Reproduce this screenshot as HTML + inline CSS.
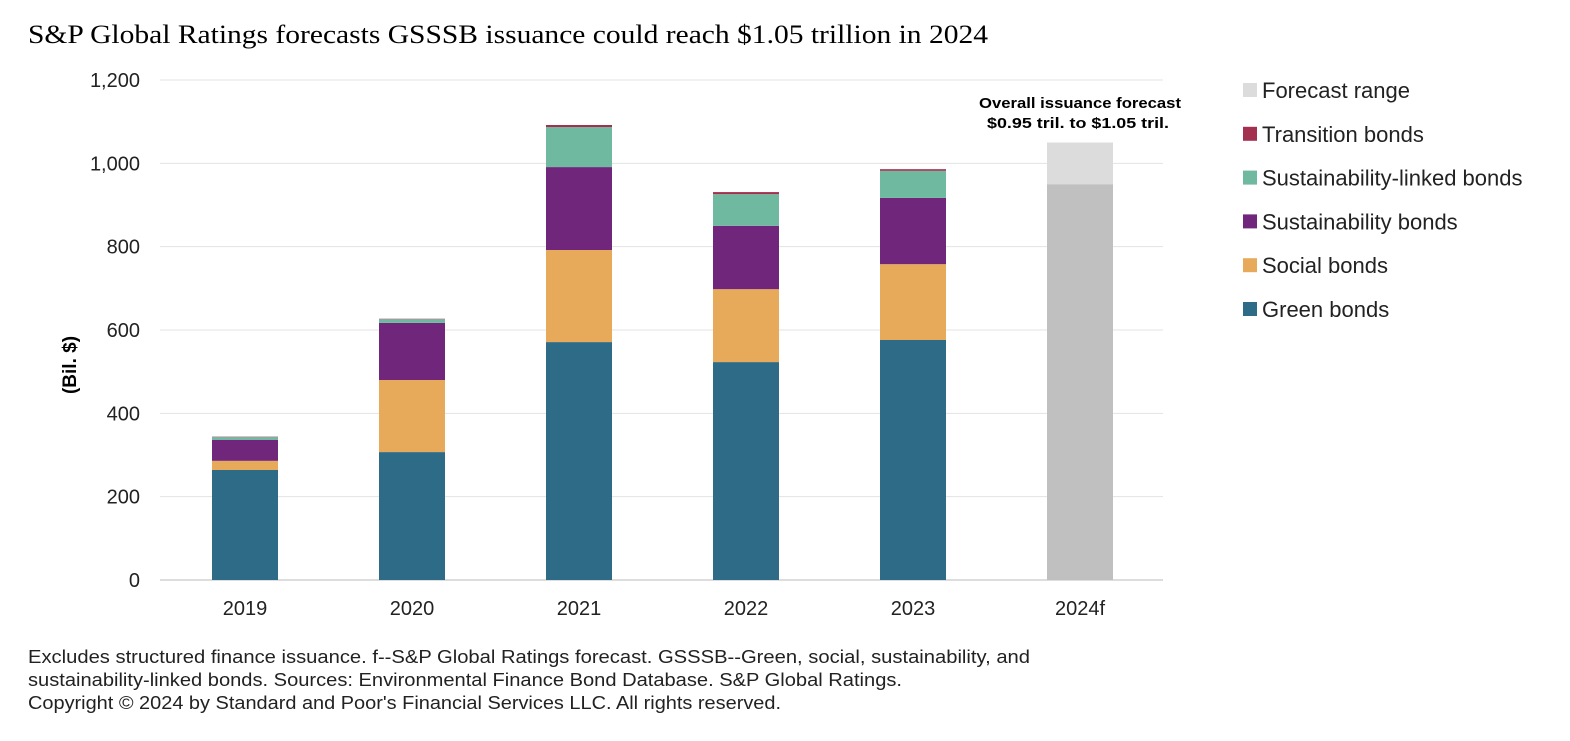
<!DOCTYPE html>
<html><head><meta charset="utf-8"><style>
body{margin:0;background:#fff;width:1570px;height:736px;overflow:hidden;font-family:"Liberation Sans",sans-serif}
</style></head><body>
<svg width="1570" height="736">
<text x="28" y="43" font-family="Liberation Serif" font-size="26" fill="#000" textLength="960" lengthAdjust="spacingAndGlyphs">S&amp;P Global Ratings forecasts GSSSB issuance could reach $1.05 trillion in 2024</text>
<g id="grid"></g><g id="bars"></g><g id="labels"></g>
<text transform="translate(76,365) rotate(-90)" text-anchor="middle" font-size="19" font-weight="bold">(Bil. $)</text>
<text x="979" y="108" font-size="15" font-weight="bold" textLength="202" lengthAdjust="spacingAndGlyphs">Overall issuance forecast</text>
<text x="987" y="128" font-size="15" font-weight="bold" textLength="182" lengthAdjust="spacingAndGlyphs">$0.95 tril. to $1.05 tril.</text>
<g id="legend"></g>
<g font-size="18" fill="#222">
<text x="28" y="663" textLength="1002" lengthAdjust="spacingAndGlyphs">Excludes structured finance issuance. f--S&amp;P Global Ratings forecast. GSSSB--Green, social, sustainability, and</text>
<text x="28" y="686" textLength="874" lengthAdjust="spacingAndGlyphs">sustainability-linked bonds. Sources: Environmental Finance Bond Database. S&amp;P Global Ratings.</text>
<text x="28" y="709" textLength="753" lengthAdjust="spacingAndGlyphs">Copyright © 2024 by Standard and Poor's Financial Services LLC. All rights reserved.</text>
</g>
</svg>
<script>
const categories=["2019","2020","2021","2022","2023"];
const green=[264,307,571,523,576];
const social=[22,173,221,175,182];
const sustainability=[50,137,199,152,159];
const sustainabilityLinked=[7,9,96,76,65];
const transition=[1,1,5,5,4];
const forecastCategory="2024f";
const forecastBase=[950];
const forecastRange=[100];
const yTicks=[0,200,400,600,800,1000,1200];
const yTickLabels=["0","200","400","600","800","1,000","1,200"];
const ns="http://www.w3.org/2000/svg";
const y=v=>580-v*500/1200;
const x=i=>245+i*167;
const bw=66;
function mk(t,a,p){const e=document.createElementNS(ns,t);for(const k in a)e.setAttribute(k,a[k]);document.getElementById(p).appendChild(e);return e;}
yTicks.forEach((t,i)=>{
 const l=mk('line',{x1:160,x2:1163,y1:y(t),y2:y(t),stroke:t===0?'#bbb':'#e3e3e3','stroke-width':1},'grid');
 
 
 const tx=mk('text',{x:140,y:y(t)+7,'text-anchor':'end','font-size':20,fill:'#222'},'labels');tx.textContent=yTickLabels[i];
 
 
});
const series=[[green,'#2e6b87','green'],[social,'#e7a95a','social'],[sustainability,'#6f267b','sustainability'],[sustainabilityLinked,'#6fb9a0','sustainability-linked'],[transition,'#a4304f','transition']];
categories.forEach((c,i)=>{
 let acc=0;
 series.forEach(s=>{const v=s[0][i];const r=mk('rect',{x:x(i)-bw/2,y:y(acc+v),width:bw,height:y(acc)-y(acc+v),fill:s[1]},'bars');
 
 
 acc+=v;});
 const t=mk('text',{x:x(i),y:615,'text-anchor':'middle','font-size':20,fill:'#222'},'labels');t.textContent=c;
 
 
});
const fi=categories.length;
const fb=mk('rect',{x:x(fi)-bw/2,y:y(forecastBase[0]),width:bw,height:y(0)-y(forecastBase[0]),fill:'#c0c0c0'},'bars');


const fr=mk('rect',{x:x(fi)-bw/2,y:y(forecastBase[0]+forecastRange[0]),width:bw,height:y(forecastBase[0])-y(forecastBase[0]+forecastRange[0]),fill:'#dcdcdc'},'bars');


const ft=mk('text',{x:x(fi),y:615,'text-anchor':'middle','font-size':20,fill:'#222'},'labels');ft.textContent=forecastCategory;


const leg=[["Forecast range","#dcdcdc"],["Transition bonds","#a4304f"],["Sustainability-linked bonds","#6fb9a0"],["Sustainability bonds","#6f267b"],["Social bonds","#e7a95a"],["Green bonds","#2e6b87"]];
leg.forEach((l,i)=>{const yy=90+i*43.8;
 const r=mk('rect',{x:1243,y:yy-7,width:14,height:14,fill:l[1]},'legend');
 
 
 const t=mk('text',{x:1262,y:yy+8,'font-size':22,fill:'#222'},'legend');t.textContent=l[0];
 
 
});
</script>
</body></html>
